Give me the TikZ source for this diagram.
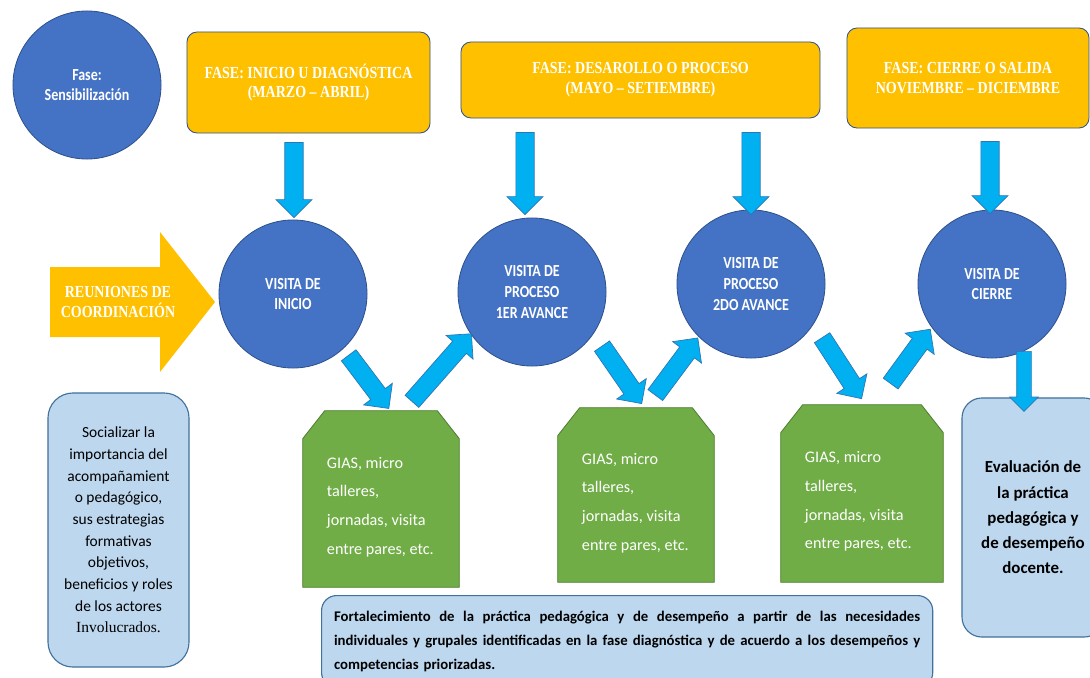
\documentclass[tikz,border=0pt]{standalone}
\usepackage{fontspec}
\setmainfont{Carlito}
\newfontfamily\romana{Liberation Serif}
\newfontfamily\romanaestrecha[FakeStretch=0.83]{Liberation Serif}
\newfontfamily\calibriestrecha[FakeStretch=0.83]{Carlito}
\usetikzlibrary{shapes.arrows,calc}

\definecolor{azulvisita}{HTML}{4472C4}
\definecolor{bordeazul}{HTML}{2F528F}
\definecolor{amarillo}{HTML}{FFC000}
\definecolor{celeste}{HTML}{00B0F0}
\definecolor{bordeceleste}{HTML}{2E75B6}
\definecolor{verde}{HTML}{70AD47}
\definecolor{bordeverde}{HTML}{507E32}
\definecolor{azulclaro}{HTML}{BDD7EE}
\definecolor{bordeclaro}{HTML}{41719C}

% linea justificada de ancho fijo
\newcommand{\lineajusta}[1]{\makebox[14.65cm][s]{\spaceskip=0.23em plus 1em\relax #1}}

\tikzset{
  visita/.style={circle, fill=azulvisita, draw=bordeazul, line width=0.6pt, minimum size=3.7cm,
    inner sep=0pt, text=white, align=center, font=\calibriestrecha\fontsize{12}{14.6}\selectfont\bfseries},
  fase/.style={rectangle, rounded corners=0.25cm, fill=amarillo, draw=bordeazul, line width=0.6pt,
    text=white, align=center, font=\romanaestrecha\fontsize{12}{14}\selectfont\bfseries},
  flecha/.style={single arrow, fill=celeste, draw=bordeceleste, line width=0.5pt, inner sep=0pt,
    text height=0.44cm, text depth=0pt, single arrow head extend=0.22cm, sloped, allow upside down},
  caja/.style={rectangle, fill=azulclaro, draw=bordeclaro, line width=0.8pt},
  verdecaja/.style={fill=verde, draw=bordeverde, line width=0.6pt},
  textoverde/.style={text=white, anchor=west, inner sep=0pt, align=left,
    font=\fontsize{11.5}{20.3}\selectfont},
}

\begin{document}
\begin{tikzpicture}[x=0.025cm, y=-0.025cm]
    \useasboundingbox (0,0) rectangle (1090,677);
    \clip (0,0) rectangle (1090,677);

    % fases
    \node[visita]  (sens)  at (87,85)      {Fase:\\Sensibilización};
    \node[fase, minimum width=6.075cm, minimum height=2.525cm] (fase1) at (308.5,82.5)
        {FASE: INICIO U DIAGNÓSTICA\\(MARZO – ABRIL)};
    \node[fase, minimum width=8.975cm, minimum height=1.9cm]   (fase2) at (640.5,80)
        {FASE: DESAROLLO O PROCESO\\(MAYO – SETIEMBRE)};
    \node[fase, minimum width=6.05cm, minimum height=2.5cm]    (fase3) at (968,78)
        {FASE: CIERRE O SALIDA\\NOVIEMBRE – DICIEMBRE};

    % reuniones
    \fill[amarillo] (50,267) -- (160,267) -- (160,232) -- (215,302) -- (160,372) -- (160,337) -- (50,337) -- cycle;
    \node[text=white, align=center, font=\romanaestrecha\fontsize{12}{14.2}\selectfont\bfseries]
          (reunion) at (118,302) {REUNIONES DE\\COORDINACIÓN};

    % visitas
    \node[visita]  (inicio) at (293,294)   {VISITA DE\\INICIO};
    \node[visita]  (proc1)  at (532,292)   {VISITA DE\\PROCESO\\1ER AVANCE};
    \node[visita]  (proc2)  at (751,284)   {VISITA DE\\PROCESO\\2DO AVANCE};
    \node[visita]  (cierre) at (992,284)   {VISITA DE\\CIERRE};

    % cajas
    \node[caja, rounded corners=0.625cm, minimum width=3.525cm, minimum height=6.85cm, align=center,
          font=\fontsize{11}{15.4}\selectfont] (izq) at (118.5,530)
        {Socializar la\\importancia del\\acompañamient\\o pedagógico,\\sus estrategias\\formativas\\objetivos,\\beneficios y roles\\de los actores\\{\romana Involucrados.}};

    \node[minimum width=3.9cm, minimum height=4.4cm, inner sep=0pt]    (g1) at (381,499) {};
    \node[minimum width=3.9cm, minimum height=4.35cm, inner sep=0pt]   (g2) at (636,495) {};
    \node[minimum width=4.05cm, minimum height=4.425cm, inner sep=0pt] (g3) at (862,493.5) {};
    \foreach \g in {g1,g2,g3}
        \draw[verdecaja] (\g.south west) -- ($(\g.north west)+(0,28)$) -- ($(\g.north west)+(22,0)$)
            -- ($(\g.north east)+(-22,0)$) -- ($(\g.north east)+(0,28)$) -- (\g.south east) -- cycle;
    \node[textoverde] (tg1) at ($(g1.west)+(24,8)$) {GIAS, micro\\talleres,\\jornadas, visita\\entre pares, etc.};
    \node[textoverde] (tg2) at ($(g2.west)+(24,8)$) {GIAS, micro\\talleres,\\jornadas, visita\\entre pares, etc.};
    \node[textoverde] (tg3) at ($(g3.west)+(24,8)$) {GIAS, micro\\talleres,\\jornadas, visita\\entre pares, etc.};

    \node[caja, rounded corners=0.375cm, anchor=north west, minimum width=15.275cm, minimum height=2.3cm,
          text width=14.65cm, align=left, font=\fontsize{10.5}{17}\selectfont\bfseries] (abajo) at (321,595)
        {\lineajusta{Fortalecimiento de la práctica pedagógica y de desempeño a partir de las necesidades}\\
         \lineajusta{individuales y grupales identificadas en la fase diagnóstica y de acuerdo a los desempeños y}\\
         competencias priorizadas.};

    \node[caja, rounded corners=0.5cm, minimum width=3.55cm, minimum height=5.975cm, align=center,
          font=\fontsize{12}{18}\selectfont\bfseries] (der) at (1033,517.5)
        {Evaluación de\\la práctica\\pedagógica y\\de desempeño\\docente.};

    % flechas
    \path ($(fase1.south -| inicio.north)+(1,5)$) -- node[flecha, minimum height=1.875cm] (f1) {} ($(inicio.north)+(1,-7)$);
    \path ($(fase2.south -| proc1.north)+(-7,10)$) -- node[flecha, minimum height=2.05cm] (f2) {} ($(proc1.north)+(-7,-8)$);
    \path ($(fase2.south -| proc2.north)+(0,10)$) -- node[flecha, minimum height=2.05cm] (f3) {} (proc2.north);
    \path ($(fase3.south -| cierre.north)+(-2,9)$) -- node[flecha, minimum height=1.8cm] (f4) {} ($(cierre.north)+(-2,-1)$);

    \path ($(inicio)+(53,57.7)$) -- node[flecha, minimum height=1.665cm] (a1) {} ($(g1.north)+(5,-6)$);
    \path ($(g1.north)+(28,-6)$) -- node[flecha, minimum height=2.25cm] (a2) {} ($(proc1)+(-63.7,45.3)$);
    \path ($(proc1)+(67.5,50.5)$) -- node[flecha, minimum height=1.745cm] (a3) {} ($(g2.north)+(3,-8)$);
    \path ($(g2.north)+(16.6,-9)$) -- node[flecha, minimum height=1.78cm] (a4) {} ($(proc2)+(-56,57.7)$);
    \path ($(proc2)+(68.7,50)$) -- node[flecha, minimum height=1.815cm] (a5) {} ($(g3.north)+(-3,-10)$);
    \path ($(g3.north)+(26,-17.5)$) -- node[flecha, minimum height=1.68cm] (a6) {} ($(cierre)+(-64.5,49)$);
    \path ($(cierre)+(32,64)$) -- node[flecha, minimum height=1.5cm, text height=0.35cm,
          single arrow head extend=0.175cm] (a7) {} ($(der.north)+(-9,10)$);
\end{tikzpicture}
\end{document}
